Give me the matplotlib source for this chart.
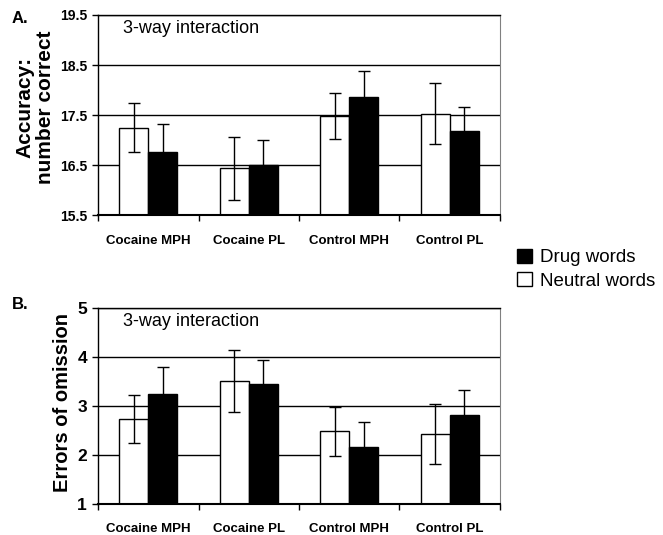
import matplotlib.pyplot as plt
import numpy as np

plt.rcParams['font.family'] = ['Liberation Sans', 'DejaVu Sans']

groups = ["Cocaine MPH", "Cocaine PL", "Control MPH", "Control PL"]

# panel A: accuracy (number correct)
acc_neutral = [17.25, 16.44, 17.48, 17.53]
acc_neutral_err = [0.49, 0.63, 0.46, 0.61]
acc_drug = [16.76, 16.51, 17.86, 17.19]
acc_drug_err = [0.57, 0.50, 0.53, 0.47]
acc_ticks = [15.5, 16.5, 17.5, 18.5, 19.5]

# panel B: errors of omission
om_neutral = [2.74, 3.50, 2.48, 2.43]
om_neutral_err = [0.49, 0.63, 0.50, 0.61]
om_drug = [3.25, 3.44, 2.16, 2.81]
om_drug_err = [0.55, 0.50, 0.51, 0.51]
om_ticks = [1, 2, 3, 4, 5]


def draw_panel(ax, neutral, neutral_err, drug, drug_err, yticks, tick_fs, lab_fs):
    x = np.arange(len(groups))
    w = 0.29
    ax.set_axisbelow(True)
    ax.yaxis.grid(True, color='black', linewidth=1)
    hn = ax.bar(x - w/2, neutral, w, color='white', edgecolor='black', linewidth=1,
                zorder=2, label='Neutral words')
    hd = ax.bar(x + w/2, drug, w, color='black', edgecolor='black', linewidth=1,
                zorder=2, label='Drug words')
    ax.errorbar(x - w/2, neutral, yerr=neutral_err, fmt='none', ecolor='black',
                elinewidth=1, capsize=4.5, capthick=1, zorder=3)
    ax.errorbar(x + w/2, drug, yerr=drug_err, fmt='none', ecolor='black',
                elinewidth=1, capsize=4.5, capthick=1, zorder=3)
    ax.set_xlim(-0.5, len(groups) - 0.5)
    ax.set_ylim(yticks[0], yticks[-1])
    ax.set_yticks(yticks)
    ax.set_yticklabels([str(t) for t in yticks], fontsize=tick_fs, fontweight='bold')
    ax.set_xticks(x)
    ax.set_xticklabels(groups, fontsize=lab_fs, fontweight='bold')
    ax.set_xticks(np.arange(len(groups) + 1) - 0.5, minor=True)
    ax.tick_params(axis='x', which='major', length=0, pad=14)
    ax.tick_params(axis='x', which='minor', length=4, width=1, direction='out')
    ax.tick_params(axis='y', length=4, width=1, direction='out', pad=4)
    for s in ['left', 'bottom', 'top']:
        ax.spines[s].set_color('black')
        ax.spines[s].set_linewidth(1)
    ax.spines['bottom'].set_linewidth(1.5)
    ax.spines['right'].set_color('#808080')
    ax.text(0.062, 0.93, "3-way interaction", transform=ax.transAxes,
            fontsize=13, va='center', ha='left')
    return hn, hd


fig = plt.figure(figsize=(6.63, 5.35), dpi=100)
axA = fig.add_axes([0.148, 0.598, 0.606, 0.374])
axB = fig.add_axes([0.148, 0.058, 0.606, 0.367])

hn, hd = draw_panel(axA, acc_neutral, acc_neutral_err, acc_drug, acc_drug_err,
                    acc_ticks, 10, 9.5)
draw_panel(axB, om_neutral, om_neutral_err, om_drug, om_drug_err,
           om_ticks, 12.5, 9.5)

fig.text(0.053, 0.80, "Accuracy:\nnumber correct", rotation=90, fontsize=15,
         fontweight='bold', ha='center', va='center', linespacing=1.05)
fig.text(0.094, 0.247, "Errors of omission", rotation=90, fontsize=14.5,
         fontweight='bold', ha='center', va='center')
fig.text(0.018, 0.966, "A.", fontsize=12, fontweight='bold', va='center')
fig.text(0.018, 0.43, "B.", fontsize=12, fontweight='bold', va='center')

fig.legend([hd, hn], ["Drug words", "Neutral words"], loc='center left',
           bbox_to_anchor=(0.78, 0.497), frameon=False, fontsize=13.5,
           handlelength=0.8, handleheight=0.8, handletextpad=0.4,
           labelspacing=0.3, borderaxespad=0, borderpad=0)

fig.savefig("out.png", dpi=100)
